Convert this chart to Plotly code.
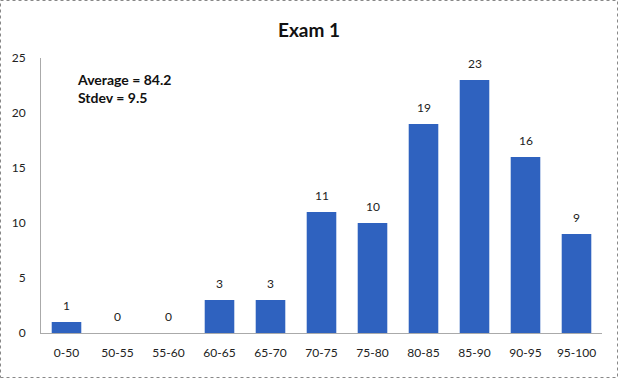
import plotly.graph_objects as go

categories = ["0-50", "50-55", "55-60", "60-65", "65-70", "70-75", "75-80",
              "80-85", "85-90", "90-95", "95-100"]
counts = [1, 0, 0, 3, 3, 11, 10, 19, 23, 16, 9]
title_text = "Exam 1"
stats_text = "Average = 84.2<br>Stdev = 9.5"

fig = go.Figure(go.Bar(
    x=categories, y=counts,
    marker=dict(color="#2f62bf", line=dict(width=0)),
    width=0.58,
))

for cat, c in zip(categories, counts):
    fig.add_annotation(x=cat, y=c, text=str(c), showarrow=False,
                       yanchor="bottom", yshift=7,
                       font=dict(size=12, color="#222"))

fig.update_layout(
    width=618, height=378,
    margin=dict(l=41, r=16, t=58, b=45),
    paper_bgcolor="white", plot_bgcolor="white",
    font=dict(family="Lato, Open Sans, sans-serif", size=12, color="#222"),
    title=dict(text="<b>" + title_text + "</b>", x=0.5, xanchor="center",
               y=0.92, yanchor="middle", font=dict(size=19, color="#111")),
    showlegend=False,
    bargap=0.42,
)
fig.update_yaxes(range=[0, 25], dtick=5, showgrid=False, zeroline=False,
                 showline=True, linecolor="#aaaaaa", linewidth=1,
                 ticks="", tickfont=dict(size=12), ticklabelstandoff=12)
fig.update_xaxes(showgrid=False, showline=True, linecolor="#aaaaaa",
                 linewidth=1, ticks="", tickfont=dict(size=12),
                 ticklabelstandoff=9)

fig.add_annotation(text="<b>" + stats_text + "</b>", xref="paper", yref="paper",
                   x=0.06, y=0.96, xanchor="left", yanchor="top",
                   align="left", showarrow=False,
                   font=dict(size=14, color="#111"))

# dotted border around the whole chart
fig.add_shape(type="rect", xref="paper", yref="paper",
              x0=-40.5/561, x1=1 + 15.5/561, y0=-44.5/275, y1=1 + 57.5/275,
              line=dict(color="#888888", width=1, dash="dot"))

fig.write_html("out.html", config={"displayModeBar": False},
               post_script="document.body.style.margin='0';"
                           "document.body.style.overflow='hidden';")
